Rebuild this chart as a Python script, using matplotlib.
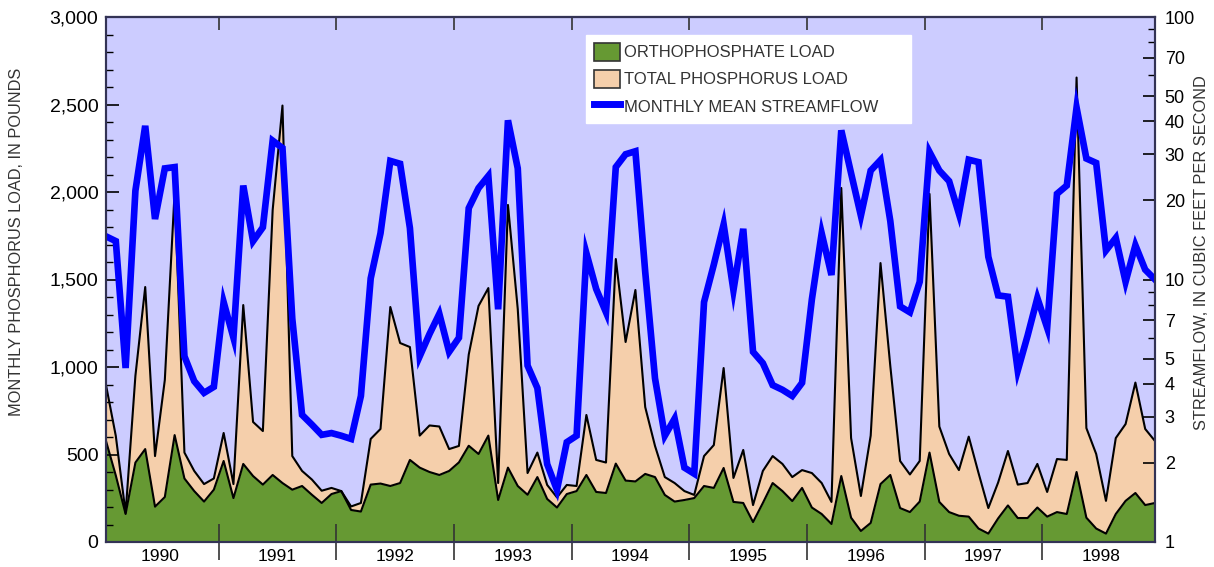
import numpy as np
import matplotlib.pyplot as plt
from matplotlib.ticker import MultipleLocator, FixedLocator, FixedFormatter, FuncFormatter, NullFormatter
from matplotlib.patches import Patch
from matplotlib.lines import Line2D

plt.rcParams['font.family'] = ['Liberation Sans', 'DejaVu Sans']

# water years (Oct-Sep), monthly values Oct 1989 .. Sep 1998
water_years = ['1990', '1991', '1992', '1993', '1994', '1995', '1996', '1997', '1998']

# monthly mean streamflow, cubic feet per second
streamflow = [14.6, 14.0, 4.6, 21.8, 38.5, 17.0, 26.5, 26.8, 5.1, 4.1, 3.7, 3.9,
              8.2, 6.0, 22.8, 14.0, 15.8, 33.8, 31.7, 7.1, 3.05, 2.8, 2.56, 2.6,
              2.54, 2.47, 3.6, 10.1, 15.0, 28.3, 27.6, 15.7, 5.1, 6.2, 7.4, 5.3,
              6.0, 18.7, 22.3, 24.8, 7.7, 40.4, 26.5, 4.7, 3.86, 1.98, 1.58, 2.4,
              2.54, 12.6, 9.2, 7.5, 26.8, 30.0, 30.8, 10.7, 4.2, 2.54, 2.95, 1.92,
              1.82, 8.2, 11.4, 16.2, 9.1, 15.6, 5.3, 4.8, 3.96, 3.8, 3.6, 4.04,
              8.4, 15.0, 10.4, 37.0, 25.4, 17.5, 26.0, 28.5, 16.7, 7.9, 7.5, 9.8,
              30.6, 26.0, 23.7, 17.8, 28.6, 28.0, 12.2, 8.7, 8.6, 4.5, 6.1, 8.5,
              6.55, 21.2, 22.8, 45.2, 28.9, 27.8, 12.9, 14.4, 9.8, 13.5, 10.9, 10.0]

# total phosphorus load, pounds
total_p = [897, 606, 166, 950, 1457, 491, 926, 2000, 511, 406, 331, 363,
           623, 331, 1354, 686, 634, 1897, 2494, 491, 406, 357, 293, 309,
           291, 203, 223, 589, 646, 1343, 1137, 1114, 608, 666, 660, 531,
           549, 1071, 1349, 1451, 337, 1926, 1331, 394, 511, 326, 255, 326,
           320, 726, 469, 454, 1617, 1143, 1440, 771, 549, 371, 337, 291,
           269, 491, 554, 994, 366, 526, 211, 406, 491, 446, 371, 411,
           394, 337, 229, 2023, 594, 263, 608, 1594, 1006, 463, 386, 463,
           1989, 660, 503, 411, 602, 394, 194, 340, 520, 328, 337, 446,
           286, 474, 469, 2654, 651, 503, 235, 594, 674, 911, 646, 577]

# orthophosphate load, pounds
ortho_p = [577, 380, 160, 454, 531, 202, 257, 611, 363, 291, 231, 299,
           463, 251, 446, 377, 328, 383, 337, 299, 320, 270, 223, 274,
           291, 183, 174, 328, 334, 320, 337, 469, 425, 400, 383, 406,
           455, 550, 503, 608, 240, 425, 320, 270, 371, 246, 197, 274,
           291, 383, 286, 280, 448, 351, 346, 389, 371, 269, 231, 240,
           251, 320, 309, 423, 229, 223, 114, 223, 337, 291, 234, 309,
           197, 160, 103, 377, 139, 63, 109, 331, 383, 194, 171, 231,
           511, 229, 171, 150, 145, 77, 48, 135, 209, 137, 137, 197,
           145, 171, 160, 400, 139, 77, 48, 160, 235, 280, 211, 223]

# months since Oct 1 1989, points at mid-month
x = np.arange(len(streamflow)) + 0.5
year_edges = np.arange(12, len(streamflow), 12)
year_mids = np.arange(len(water_years)) * 12 + 6

fig = plt.figure(figsize=(12.14, 5.67), dpi=100)
ax = fig.add_axes([106 / 1214, 25 / 567, 1049 / 1214, 525 / 567])
ax.set_facecolor('#ccccff')

ax.fill_between(x, total_p, color='#f5cfab', lw=0)
ax.plot(x, total_p, color='black', lw=1.5)
ax.fill_between(x, ortho_p, color='#669933', lw=0)
ax.plot(x, ortho_p, color='black', lw=1.5)

ax.set_xlim(x[0], x[-1])
ax.set_ylim(0, 3000)

ax.xaxis.set_major_locator(FixedLocator(year_edges))
ax.xaxis.set_major_formatter(NullFormatter())
ax.xaxis.set_minor_locator(FixedLocator(year_mids))
ax.xaxis.set_minor_formatter(FixedFormatter(water_years))
ax.tick_params(axis='x', which='major', direction='inout', length=26, width=1.2, color='#333333')
ax.tick_params(axis='x', which='minor', length=0, labelsize=12.5, pad=5)

ax.yaxis.set_major_locator(MultipleLocator(500))
ax.yaxis.set_minor_locator(MultipleLocator(100))
ax.yaxis.set_major_formatter(FuncFormatter(lambda v, p: f'{v:,.0f}'))
ax.tick_params(axis='y', which='major', direction='in', length=9, width=1.2, labelsize=14,
               pad=5.5, right=False)
ax.tick_params(axis='y', which='minor', direction='in', length=5, width=1.0, right=False)

top = ax.secondary_xaxis('top')
top.xaxis.set_major_locator(FixedLocator(year_edges))
top.xaxis.set_major_formatter(NullFormatter())
top.tick_params(direction='in', length=9, width=1.2, color='#333333')

ax2 = ax.twinx()
ax2.plot(x, streamflow, color='#0000ff', lw=4.8, solid_joinstyle='miter')
ax2.set_yscale('log')
ax2.set_ylim(1, 100)
ax2.yaxis.set_major_locator(FixedLocator([1, 2, 3, 4, 5, 7, 10, 20, 30, 40, 50, 70, 100]))
ax2.yaxis.set_major_formatter(FuncFormatter(lambda v, p: f'{v:g}'))
ax2.yaxis.set_minor_locator(FixedLocator([6, 8, 9, 60, 80, 90]))
ax2.yaxis.set_minor_formatter(NullFormatter())
ax2.tick_params(axis='y', which='major', direction='in', length=9, width=1.2, labelsize=13, pad=7)
ax2.tick_params(axis='y', which='minor', direction='in', length=5, width=1.0)

for a in (ax, ax2):
    for s in a.spines.values():
        s.set_color('#333355')
        s.set_linewidth(1.5)
top.spines['top'].set_color('#333355')
top.spines['top'].set_linewidth(1.5)

fig.text(17 / 1214, 1 - 242 / 567, 'MONTHLY PHOSPHORUS LOAD, IN POUNDS', rotation=90,
         ha='center', va='center', fontsize=11.8, color='#333333')
fig.text(1201 / 1214, 1 - 253 / 567, 'STREAMFLOW, IN CUBIC FEET PER SECOND', rotation=90,
         ha='center', va='center', fontsize=11.8, color='#333333')

handles = [Patch(facecolor='#669933', edgecolor='#333333', lw=1.2),
           Patch(facecolor='#f5cfab', edgecolor='#333333', lw=1.2),
           Line2D([0], [0], color='#0000ff', lw=5)]
labels = ['ORTHOPHOSPHATE LOAD', 'TOTAL PHOSPHORUS LOAD', 'MONTHLY MEAN STREAMFLOW']
leg = ax2.legend(handles, labels, loc='upper left', mode='expand',
                 bbox_to_anchor=(0.4576, 0.70, 0.3098, 0.2657),
                 borderaxespad=0, fontsize=12, frameon=True, fancybox=False,
                 facecolor='white', edgecolor='white', framealpha=1,
                 handlelength=1.6, handleheight=1.35, labelspacing=0.5,
                 borderpad=0.45, handletextpad=0.2)
for t in leg.get_texts():
    t.set_color('#333333')

fig.savefig('out.png', dpi=100)
